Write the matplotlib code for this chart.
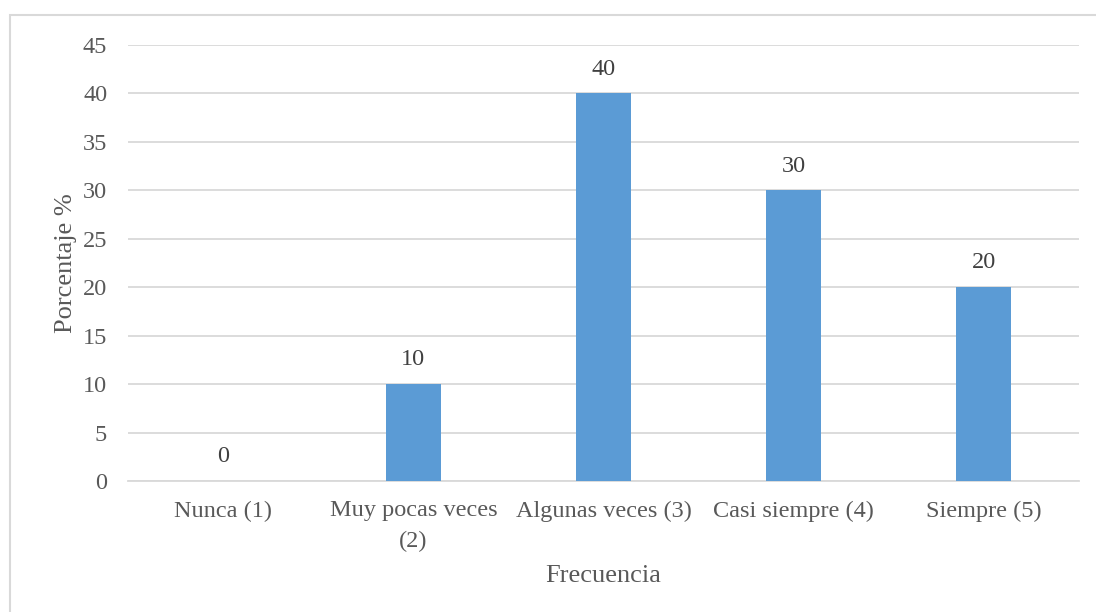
import matplotlib.pyplot as plt
from matplotlib.patches import Rectangle

categories = ["Nunca (1)", "Muy pocas veces\n(2)", "Algunas veces (3)", "Casi siempre (4)", "Siempre (5)"]
values = [0, 10, 40, 30, 20]
yticks = [0, 5, 10, 15, 20, 25, 30, 35, 40, 45]

plt.rcParams['font.family'] = ['Liberation Serif', 'DejaVu Serif']

fig = plt.figure(figsize=(10.96, 6.12), dpi=100)
ax = fig.add_axes([0.1168, 0.2141, 0.8677, 0.7124])

# light frame round the chart, running off the right and bottom edges
fig.patches.append(Rectangle((10 / 1096, -0.05), 1.1, 1.05 - 15 / 612,
                             transform=fig.transFigure, fill=False,
                             edgecolor="#d9d9d9", linewidth=1.5))

x = range(len(categories))
bars = ax.bar(x, values, width=0.29, color="#5b9bd5", zorder=3)
for b, v in zip(bars, values):
    ax.text(b.get_x() + b.get_width() / 2, v + 2.5, str(v), ha="center", va="center",
            fontsize=17.5, color="#404040")

ax.set_xlim(-0.5, len(categories) - 0.5)
ax.set_ylim(0, 45)
ax.set_yticks(yticks)
ax.set_xticks(list(x))
ax.set_xticklabels(categories, fontsize=17.5, color="#595959", linespacing=1.6)
ax.tick_params(axis="y", labelsize=17.5, labelcolor="#595959", length=0, pad=15)
ax.tick_params(axis="x", length=0, pad=14)
ax.grid(axis="y", color="#d9d9d9", linewidth=1.3, zorder=0)
for s in ["top", "right", "left"]:
    ax.spines[s].set_visible(False)
ax.spines["bottom"].set_color("#d9d9d9")
ax.spines["bottom"].set_linewidth(1.3)

ax.set_ylabel("Porcentaje %", fontsize=19, color="#595959", labelpad=4)
ax.set_xlabel("Frecuencia", fontsize=19, color="#595959", labelpad=9)

fig.savefig("out.png", dpi=100)
